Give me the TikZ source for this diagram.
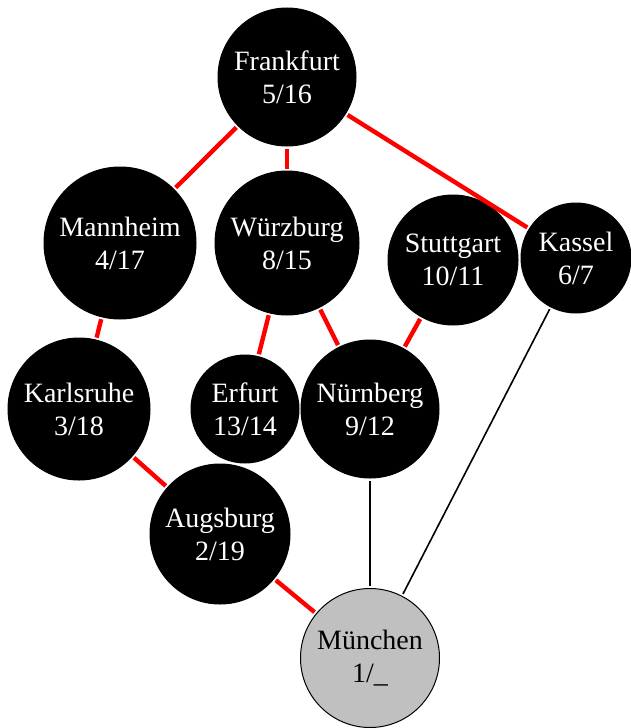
\documentclass[tikz,border=0pt]{standalone}
\usepackage{fontspec}
\setmainfont{Liberation Serif}
\usepackage{tikz}
\usepackage{xcolor}
\usetikzlibrary{positioning}
\definecolor{TreeRed}{HTML}{FF0000}
\definecolor{NodeBlack}{HTML}{000000}
\definecolor{RootGray}{HTML}{C0C0C0}
\tikzset{
    % City node style
    citynode/.style={
        circle,
        draw=NodeBlack,
        fill=NodeBlack,
        text=white,
        line width=0.5pt,
        inner sep=0pt,
        align=center,
        font=\fontsize{14pt}{16.5pt}\selectfont
    },
    % Start node style
    rootnode/.style={
        citynode,
        fill=RootGray,
        text=NodeBlack
    },
    % Tree edge (red)
    treeedge/.style={
        draw=TreeRed,
        line width=2.2pt,
        shorten <=1pt,
        shorten >=1pt
    },
    % Non-tree edge (black)
    backedge/.style={
        draw=NodeBlack,
        line width=0.8pt,
        shorten <=1pt,
        shorten >=1pt
    }
}
\begin{document}
\begin{tikzpicture}[x=0.5pt, y=-0.5pt]
        \useasboundingbox (0,0) rectangle (631,728);

        % Cities
        \node[citynode, minimum size=69pt] (frankfurt) at (287,77) {Frankfurt\\5/16};
        \node[citynode, minimum size=76pt] (mannheim) at (120,243) {Mannheim\\4/17};
        \node[citynode, minimum size=72pt] (wuerzburg) at (287,243) {Würzburg\\8/15};
        \node[citynode, minimum size=65pt] (stuttgart) at (453,260) {Stuttgart\\10/11};
        \node[citynode, minimum size=55pt] (kassel) at (576,258) {Kassel\\6/7};
        \node[citynode, minimum size=71pt] (karlsruhe) at (79,409) {Karlsruhe\\3/18};
        \node[citynode, minimum size=54pt] (erfurt) at (245,409) {Erfurt\\13/14};
        \node[citynode, minimum size=69pt] (nuernberg) at (370,409) {Nürnberg\\9/12};
        \node[citynode, minimum size=70pt] (augsburg) at (220,534) {Augsburg\\2/19};
        \node[rootnode, minimum size=69.5pt] (muenchen) at (370,658) {München\\1/\_};

        % Tree edges
        \draw[treeedge] (muenchen) -- (augsburg);
        \draw[treeedge] (augsburg) -- (karlsruhe);
        \draw[treeedge] (karlsruhe) -- (mannheim);
        \draw[treeedge] (mannheim) -- (frankfurt);
        \draw[treeedge] (frankfurt) -- (wuerzburg);
        \draw[treeedge] (frankfurt) -- (kassel);
        \draw[treeedge] (wuerzburg) -- (erfurt);
        \draw[treeedge] (wuerzburg) -- (nuernberg);
        \draw[treeedge] (nuernberg) -- (stuttgart);

        % Other edges
        \draw[backedge] (muenchen) -- (nuernberg);
        \draw[backedge] (muenchen) -- (kassel);
    \end{tikzpicture}
\end{document}
